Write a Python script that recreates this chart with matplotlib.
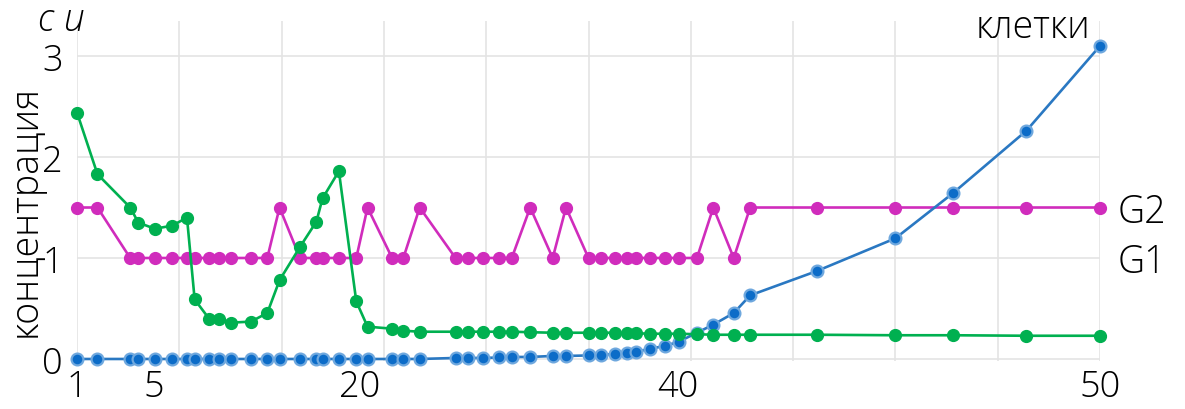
import matplotlib
matplotlib.use("Agg")
import matplotlib.pyplot as plt

# Time of each cell record (arbitrary units along the horizontal axis)
t = [0.00, 0.20, 0.52, 0.60, 0.76, 0.93, 1.075, 1.15, 1.29, 1.39,
     1.51, 1.70, 1.86, 1.98, 2.18, 2.34, 2.40, 2.56, 2.73, 2.84,
     3.08, 3.19, 3.35, 3.70, 3.82, 3.97, 4.13, 4.25, 4.43, 4.65,
     4.78, 5.00, 5.12, 5.26, 5.38, 5.46, 5.60, 5.75, 5.88, 6.06,
     6.22, 6.42, 6.58, 7.23, 8.00, 8.56, 9.28, 10.00]

# Blue series (rises steeply at the end)
blue = [0, 0, 0, 0, 0, 0, 0, 0, 0, 0,
        0, 0, 0, 0, 0, 0, 0, 0, 0, 0,
        0, 0, 0, 0.01, 0.01, 0.01, 0.015, 0.02, 0.02, 0.03,
        0.03, 0.035, 0.04, 0.05, 0.055, 0.07, 0.10, 0.13, 0.17, 0.26,
        0.34, 0.455, 0.63, 0.87, 1.195, 1.64, 2.26, 3.10]

# Green series
green = [2.44, 1.83, 1.50, 1.35, 1.29, 1.32, 1.40, 0.59, 0.40, 0.40,
         0.36, 0.37, 0.455, 0.78, 1.11, 1.36, 1.59, 1.86, 0.57, 0.32,
         0.30, 0.28, 0.27, 0.27, 0.27, 0.27, 0.27, 0.27, 0.265, 0.26,
         0.26, 0.26, 0.26, 0.26, 0.255, 0.255, 0.25, 0.25, 0.25, 0.245,
         0.24, 0.24, 0.24, 0.24, 0.235, 0.235, 0.23, 0.23]

# Magenta series (switches between G1 and G2 levels)
magenta = [1.5, 1.5, 1, 1, 1, 1, 1, 1, 1, 1,
           1, 1, 1, 1.5, 1, 1, 1, 1, 1, 1.5,
           1, 1, 1.5, 1, 1, 1, 1, 1, 1.5, 1,
           1.5, 1, 1, 1, 1, 1, 1, 1, 1, 1,
           1.5, 1, 1.5, 1.5, 1.5, 1.5, 1.5, 1.5]

# Cell numbers shown on the horizontal axis
tick_pos = [0.0, 0.755, 2.76, 5.87, 10.0]
tick_labels = ["1", "5", "20", "40", "50"]
y_ticks = [0, 1, 2, 3]

levels = {"G2": 1.5, "G1": 1.0}

FONT = ["Open Sans", "DejaVu Sans"]
plt.rcParams["font.family"] = FONT
plt.rcParams["font.weight"] = "light"

fig = plt.figure(figsize=(11.85, 4.10), dpi=100)
ax = fig.add_axes([77 / 1185, 1 - 362 / 410, 1023 / 1185, 340 / 410])

ax.plot(t, magenta, color="#d02cbc", lw=1.9, marker="o", ms=8.5,
        mec="#d02cbc", mfc="#d02cbc", zorder=3, clip_on=False)
ax.plot(t, blue, color="#2a78c2", lw=1.9, marker="o", ms=8.5,
        mfc="#0c6cc8", mec="#6fa8de", mew=1.6, zorder=4, clip_on=False)
ax.plot(t, green, color="#00b050", lw=1.9, marker="o", ms=8.5,
        mec="#00b050", mfc="#00b050", zorder=5, clip_on=False)

ax.set_xlim(0, 10)
ax.set_ylim(-0.02, 3.347)

# labelled cell numbers as major ticks, evenly spaced grid as minor ticks
ax.xaxis.remove_overlapping_locs = False
ax.set_xticks(tick_pos)
ax.set_xticklabels(tick_labels)
ax.set_xticks(range(0, 11), minor=True)
ax.set_yticks(y_ticks)
ax.set_yticklabels([str(v) for v in y_ticks])

ax.grid(False, axis="x", which="major")
ax.grid(True, axis="x", which="minor", color="#e4e4e4", lw=1.2)
ax.grid(True, axis="y", which="major", color="#e4e4e4", lw=1.2)
ax.set_axisbelow(True)
for s in ax.spines.values():
    s.set_visible(False)

ax.tick_params(axis="x", which="both", length=0)
ax.tick_params(axis="x", which="major", labelsize=26, pad=5)
ax.tick_params(axis="y", length=0, labelsize=26, pad=10)

for name, lev in levels.items():
    ax.annotate(name, xy=(1, lev), xycoords=("axes fraction", "data"),
                xytext=(18, -4), textcoords="offset pixels",
                ha="left", va="center", fontsize=27)

fig.text(25 / 1185, 1 - 211 / 410, "концентрация", rotation=90,
         ha="center", va="center", fontsize=27)
fig.text(1090 / 1185, 1 - 38 / 410, "клетки", ha="right", va="baseline",
         fontsize=27)
fig.text(61 / 1185, 1 - 31 / 410, "c u", ha="center", va="baseline",
         fontsize=27, style="italic")

fig.savefig("out.png", dpi=100)
